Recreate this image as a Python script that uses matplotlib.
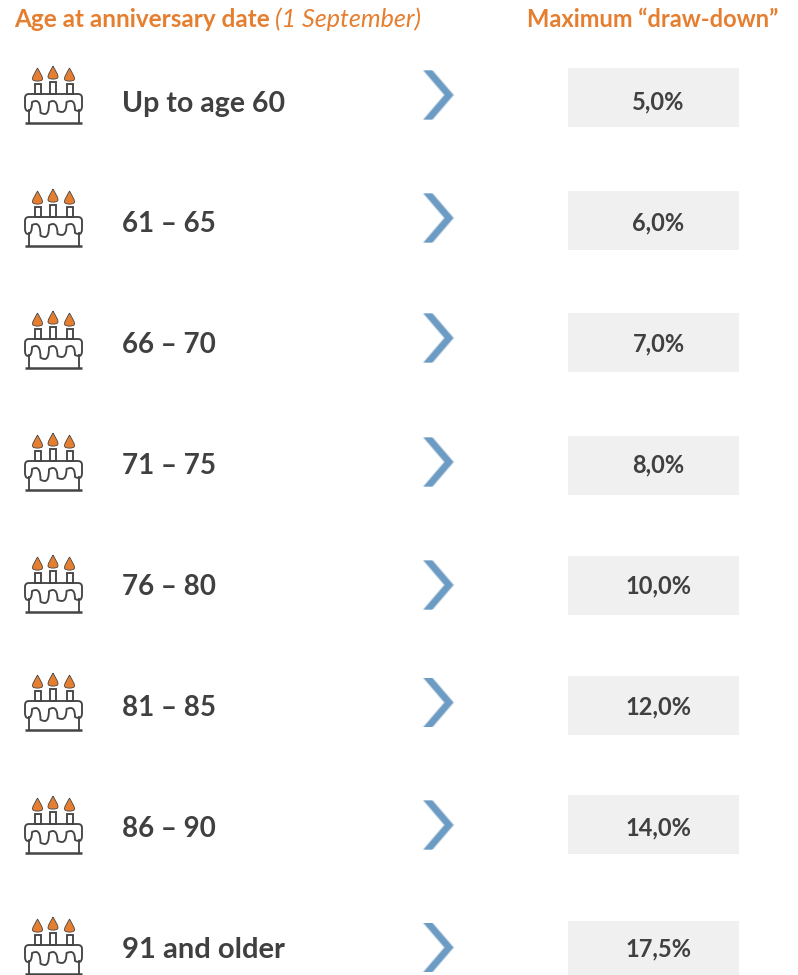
import matplotlib
matplotlib.use("Agg")
import matplotlib.pyplot as plt
from matplotlib.patches import Rectangle, PathPatch, Polygon
from matplotlib.path import Path

plt.rcParams['font.family'] = ['Lato', 'Open Sans', 'DejaVu Sans']

# Data
age_bands = ["Up to age 60", "61 – 65", "66 – 70", "71 – 75", "76 – 80", "81 – 85", "86 – 90", "91 and older"]
drawdown_labels = ["5,0%", "6,0%", "7,0%", "8,0%", "10,0%", "12,0%", "14,0%", "17,5%"]
header_left = "Age at anniversary date"
header_left_note = "(1 September)"
header_right = "Maximum “draw-down”"

# Layout (pixels of the 798x975 canvas)
row_text_base = [112, 232, 353, 474, 595, 716, 837, 958]
row_value_base = [109, 230, 351, 472, 593, 714, 835, 956]
row_box_top = [68, 191, 313, 436, 556, 676, 795, 921]
row_icon_y = [97, 220, 342, 464, 586, 704, 827, 948]
row_chev_y = [95, 218, 338, 462, 585, 702.5, 825, 947.5]
row_font = [20.5, 20, 20, 20, 20, 20, 20, 21]
ORANGE = "#E67E30"
DARK = "#404040"
ICON = "#454545"
BLUE = "#6C9BC3"
BOX = "#F0F0F0"

fig = plt.figure(figsize=(7.98, 9.75), dpi=100)
ax = fig.add_axes([0, 0, 1, 1])
ax.set_xlim(0, 798)
ax.set_ylim(975, 0)
ax.axis("off")


def cake(ax, cy):
    lw = 1.35
    ax.plot([25, 82], [cy + 26, cy + 26], color=ICON, lw=1.8, solid_capstyle="butt")
    ax.plot([28.5, 28.5], [cy + 13, cy + 26], color=ICON, lw=lw)
    ax.plot([78.5, 78.5], [cy + 13, cy + 26], color=ICON, lw=lw)
    # top layer outline, with a wavy drip edge
    v = [(28, cy + 14)]
    c = [Path.MOVETO]
    v += [(25, cy + 14), (25, cy + 9)]; c += [Path.CURVE3, Path.CURVE3]
    v += [(25, cy + 1)]; c += [Path.LINETO]
    v += [(25, cy - 3), (29, cy - 3)]; c += [Path.CURVE3, Path.CURVE3]
    v += [(78, cy - 3)]; c += [Path.LINETO]
    v += [(82, cy - 3), (82, cy + 1)]; c += [Path.CURVE3, Path.CURVE3]
    v += [(82, cy + 9)]; c += [Path.LINETO]
    v += [(82, cy + 14), (79, cy + 14)]; c += [Path.CURVE3, Path.CURVE3]
    wave = [(79, 14), (71, 4), (62, 15), (53, 4), (45, 17), (36, 4), (28, 14)]
    for (x0, y0), (x1, y1) in zip(wave[:-1], wave[1:]):
        xm = 0.5 * (x0 + x1)
        v += [(xm + 0.5 * (x0 - xm), cy + y0), (xm, cy + y0 + 0.1 * (y1 - y0))]
        c += [Path.CURVE3, Path.CURVE3]
        v += [(xm, cy + y1), (x1, cy + y1)]
        c += [Path.CURVE3, Path.CURVE3]
    ax.add_patch(PathPatch(Path(v, c), fill=False, ec=ICON, lw=lw, joinstyle="round"))
    for cx, top, rise in ((37.5, -13, 0), (53, -15, 2), (69.5, -13, 0)):
        ax.add_patch(Rectangle((cx - 3, cy + top), 6, -3 - top, fill=False, ec=ICON, lw=lw))
        f0 = cy - 29 - rise
        f1 = cy - 16 - rise
        flame = Path([(cx, f0), (cx + 2, f0 + 4), (cx + 6.5, f1 - 3), (cx + 4.5, f1 - 1),
                      (cx + 3, f1 + 0.5), (cx - 3, f1 + 0.5), (cx - 4.5, f1 - 1),
                      (cx - 6.5, f1 - 3), (cx - 2, f0 + 4), (cx, f0)],
                     [Path.MOVETO] + [Path.CURVE4] * 9)
        ax.add_patch(PathPatch(flame, fc=ORANGE, ec=ICON, lw=0.6))


def chevron(ax, cy):
    for grow, alpha in ((1.6, 0.25), (0.8, 0.4), (0.0, 1.0)):
        pts = [(424 - grow, cy - 24.5), (432 + grow, cy - 24.5), (453 + grow, cy),
               (432 + grow, cy + 24.5), (424 - grow, cy + 24.5), (445 - grow, cy)]
        ax.add_patch(Polygon(pts, closed=True, fc=BLUE, ec="none", alpha=alpha))


ax.text(14, 27, header_left, color=ORANGE, fontsize=17.5, fontweight="bold", va="baseline", ha="left")
ax.text(275, 27, header_left_note, color=ORANGE, fontsize=18.1, style="italic", va="baseline", ha="left")
ax.text(652.5, 27, header_right, color=ORANGE, fontsize=17.1, fontweight="bold", va="baseline", ha="center")

for band, val, tb, vb, by, iy, cy, fs in zip(age_bands, drawdown_labels, row_text_base, row_value_base,
                                             row_box_top, row_icon_y, row_chev_y, row_font):
    cake(ax, iy)
    ax.text(122, tb, band, color=DARK, fontsize=fs, fontweight="bold", va="baseline", ha="left")
    chevron(ax, cy)
    ax.add_patch(Rectangle((568, by), 171, 59, fc=BOX, ec="none"))
    ax.text(658.5, vb, val, color=DARK, fontsize=17, fontweight="bold", va="baseline", ha="center")

fig.savefig("out.png", dpi=100, facecolor="white")
